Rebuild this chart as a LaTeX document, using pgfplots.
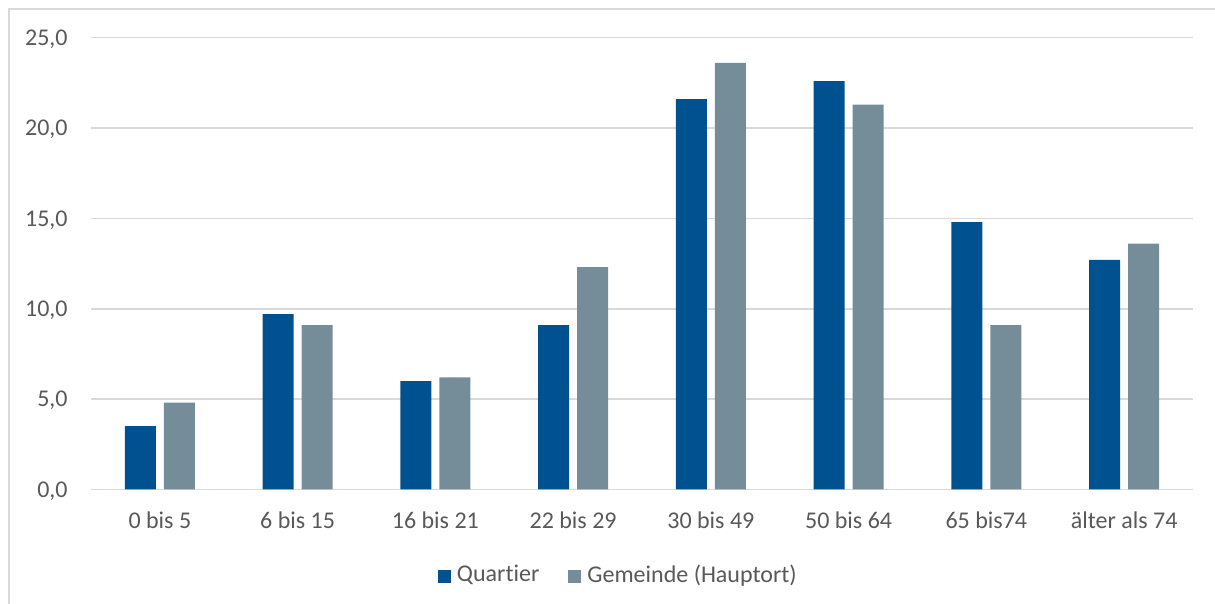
\documentclass[border=0pt]{standalone}
\usepackage{fontspec}
\setmainfont{Carlito}[Ligatures={NoCommon}]
\usepackage{pgfplots}
\pgfplotsset{compat=1.18}

\definecolor{quartier}{RGB}{0,81,143}
\definecolor{gemeinde}{RGB}{117,140,153}
\definecolor{txtgray}{RGB}{89,89,89}
\definecolor{gridgray}{RGB}{217,217,217}

\begin{document}
\begin{tikzpicture}
\useasboundingbox (0,0) rectangle (607.5pt,302pt);
% chart frame (only top and left edge visible)
\draw[gridgray, line width=1pt] (4.5pt,0pt) -- (4.5pt,297.5pt) -- (607.5pt,297.5pt);

\begin{axis}[
    at={(45.5pt,57.25pt)}, anchor=south west,
    scale only axis,
    width=551pt, height=225.9pt,
    ybar=4pt, bar width=15.5pt,
    xmin=-0.5, xmax=7.5,
    ymin=0, ymax=25,
    ytick={0,5,...,25},
    xtick={0,...,7},
    xticklabels={0 bis 5, 6 bis 15, 16 bis 21, 22 bis 29, 30 bis 49, 50 bis 64, 65 bis74, älter als 74},
    axis line style={draw=none},
    major tick length=0pt,
    ymajorgrids,
    major grid style={draw=gridgray, line width=0.75pt},
    tick label style={font=\fontsize{12}{14.4}\selectfont, text=txtgray},
    xticklabel style={anchor=base, inner sep=0pt, yshift=-19.75pt},
    yticklabel style={anchor=base east, inner sep=0pt, xshift=-11.5pt, yshift=-3.9pt},
    /pgf/number format/.cd, use comma, fixed, fixed zerofill, precision=1, assume math mode=true,
    /pgfplots/.cd,
    legend columns=2,
    legend style={
        at={(0.479,-0.189)}, anchor=center, draw=none,
        font=\fontsize{12}{14.4}\selectfont, text=txtgray,
        /tikz/every even column/.append style={column sep=13pt},
        /tikz/every odd column/.append style={column sep=1.5pt},
        nodes={inner xsep=1.5pt},
        inner sep=0pt,
    },
    legend image code/.code={\fill[#1] (0pt,-3.9pt) rectangle (6.5pt,2.6pt);},
]
\addplot[fill=quartier, draw=none] coordinates {
    (0,3.5) (1,9.7) (2,6.0) (3,9.1) (4,21.6) (5,22.6) (6,14.8) (7,12.7)
};
\addlegendentry{Quartier}
\addplot[fill=gemeinde, draw=none] coordinates {
    (0,4.8) (1,9.1) (2,6.2) (3,12.3) (4,23.6) (5,21.3) (6,9.1) (7,13.6)
};
\addlegendentry{Gemeinde (Hauptort)}
\end{axis}
\end{tikzpicture}
\end{document}
